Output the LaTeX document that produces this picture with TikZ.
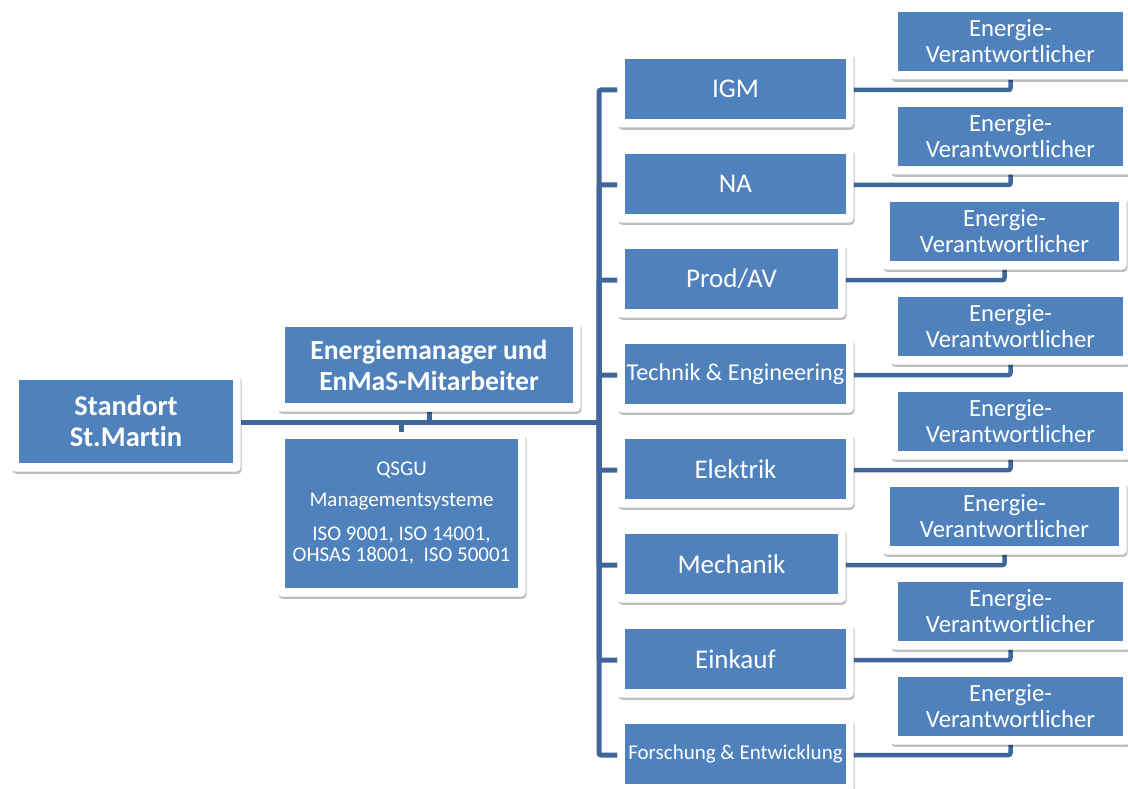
\documentclass[tikz,border=0pt]{standalone}
\usepackage{fontspec}
\setmainfont{Carlito}[Ligatures=NoCommon]
\usetikzlibrary{shadows}
\definecolor{boxblue}{RGB}{79,129,189}
\definecolor{linkblue}{RGB}{64,103,153}
\pgfdeclarelayer{background}
\pgfsetlayers{background,main}
% name, cx, cy, w, h, font, text
\newcommand{\orgbox}[7]{%
  \node[orgframe, minimum width=#4+15, minimum height=#5+15] (#1-f) at (#2,#3+1) {};
  \node[bluebox, minimum width=#4, minimum height=#5, font={#6}] (#1) at (#2,#3) {#7};
}
\newcommand{\fsA}{\fontsize{27}{30}\selectfont}
\newcommand{\fsE}{\fontsize{24.7}{26}\selectfont}
\begin{document}
\begin{tikzpicture}[x=1pt, y=-1pt,
  orgframe/.style={fill=white, rounded corners=4pt, inner sep=0pt,
    drop shadow={shadow xshift=1pt, shadow yshift=-2.4pt, fill=black, opacity=0.25}},
  bluebox/.style={fill=boxblue, text=white, inner sep=0pt, align=center},
  link/.style={draw=linkblue, line width=5pt, rounded corners=2pt},
  sublink/.style={draw=linkblue, line width=4.5pt, rounded corners=2pt}]
\useasboundingbox (0,0) rectangle (1128,789);

% left column
\orgbox{st}{126}{421.5}{214}{83}{\fontsize{28.5}{31}\selectfont\bfseries}{Standort\\St.Martin}
\orgbox{em}{429}{365}{288}{76}{\fontsize{27.6}{31}\selectfont\bfseries}{Energiemanager und\\EnMaS-Mitarbeiter}
\orgbox{qs}{401.5}{513.5}{233}{149}{\fontsize{21}{21}\selectfont}{QSGU\\[10pt]Managementsysteme\\[13pt]ISO 9001, ISO 14001,\\OHSAS 18001,\ \ ISO 50001}

% middle column
\orgbox{m0}{735.5}{89}{221}{60}{\fsA}{IGM}
\orgbox{m1}{735.5}{184}{221}{60}{\fsA}{NA}
\orgbox{m2}{731.5}{279}{213}{60}{\fsA}{Prod/AV}
\orgbox{m3}{735.5}{374}{221}{60}{\fontsize{24.2}{28}\selectfont}{Technik \& Engineering}
\orgbox{m4}{735.5}{469}{221}{60}{\fsA}{Elektrik}
\orgbox{m5}{731.5}{564}{213}{60}{\fsA}{Mechanik}
\orgbox{m6}{735.5}{659}{221}{60}{\fsA}{Einkauf}
\orgbox{m7}{735.5}{754}{221}{60}{\fontsize{21}{25}\selectfont}{Forschung \& Entwicklung}

% right column
\orgbox{r0}{1010.5}{41.5}{225}{59}{\fsE}{Energie-\\Verantwortlicher}
\orgbox{r1}{1010.5}{136.5}{225}{59}{\fsE}{Energie-\\Verantwortlicher}
\orgbox{r2}{1004.5}{231.5}{229}{59}{\fsE}{Energie-\\Verantwortlicher}
\orgbox{r3}{1010.5}{326.5}{225}{59}{\fsE}{Energie-\\Verantwortlicher}
\orgbox{r4}{1010.5}{421.5}{225}{59}{\fsE}{Energie-\\Verantwortlicher}
\orgbox{r5}{1004.5}{516.5}{229}{59}{\fsE}{Energie-\\Verantwortlicher}
\orgbox{r6}{1010.5}{611.5}{225}{59}{\fsE}{Energie-\\Verantwortlicher}
\orgbox{r7}{1010.5}{706.5}{225}{59}{\fsE}{Energie-\\Verantwortlicher}

\coordinate (hub) at (599,422);

\begin{pgfonlayer}{background}
  \draw[link] (st-f.east) -- (st-f.east -| hub);
  \draw[link] (em-f.south) -- (em-f.south |- hub);
  \draw[link] (qs-f.north) -- (qs-f.north |- hub);
  \foreach \i in {0,...,7} {
    \draw[link] (m\i-f.west) -| (hub);
    \draw[sublink] (m\i-f.east) -| (r\i-f.south);
  }
\end{pgfonlayer}
\end{tikzpicture}
\end{document}
